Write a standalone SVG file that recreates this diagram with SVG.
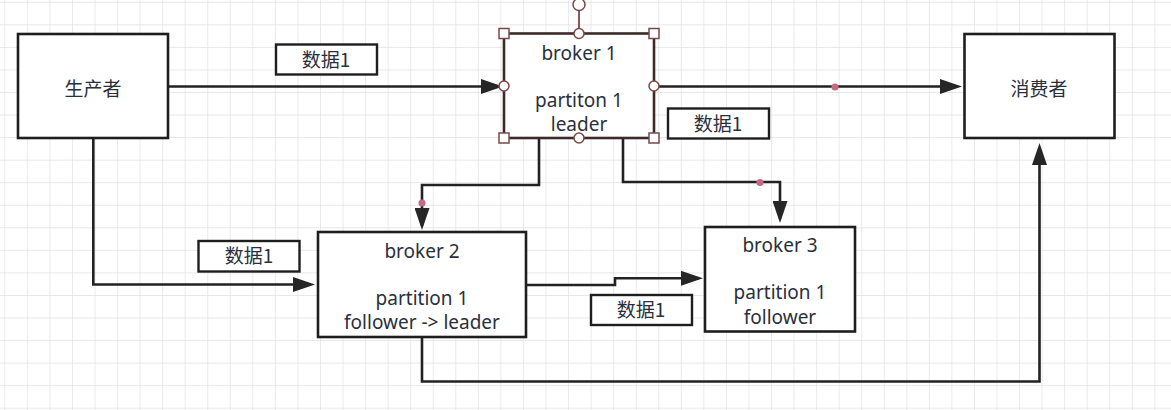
<svg xmlns="http://www.w3.org/2000/svg" width="1171" height="410" viewBox="0 0 1171 410">
  <defs>
    <pattern id="grid" x="4.3" y="1.8" width="22.55" height="22.55" patternUnits="userSpaceOnUse">
      <path d="M0,0 H22.55 M0,0 V22.55" fill="none" stroke="#e0e0e0" stroke-width="1.3"/>
    </pattern>
    <marker id="arrow" viewBox="0 0 22 15" refX="18" refY="7.5" markerWidth="22" markerHeight="15" markerUnits="userSpaceOnUse" orient="auto">
      <path d="M0,0 L22,7.5 L0,15 Z" fill="#262626"/>
    </marker>
  </defs>
  <style>
    .box { fill: #ffffff; stroke: #1e1e1e; stroke-width: 2.6; }
    .sel { fill: #ffffff; stroke: #3f2a2a; stroke-width: 2.6; }
    .lbl { fill: #ffffff; stroke: #1e1e1e; stroke-width: 2.4; }
    .t { font-family: "Noto Sans", "Liberation Sans", "Noto Sans CJK SC", sans-serif; font-size: 19px; fill: #2a2f3c; text-anchor: middle; }
    .c { font-family: "Noto Sans CJK SC", "Noto Sans", sans-serif; font-size: 19px; fill: #2a2f3c; text-anchor: middle; }
    .edge { fill: none; stroke: #222222; stroke-width: 2.6; marker-end: url(#arrow); }
    .dot { fill: #c46a82; }
    .hc { fill: #ffffff; stroke: #7a4848; stroke-width: 1.5; }
    .hl { stroke: #7a4848; stroke-width: 1.8; }
  </style>
  <rect width="1171" height="410" fill="#ffffff"/>
  <rect width="1171" height="410" fill="url(#grid)"/>

  <g id="connectors">
    <path class="edge" d="M168,86.5 H499"/>
    <path class="edge" d="M93.3,138 V284.5 H311"/>
    <path class="edge" d="M654,86.5 H958"/>
    <path class="edge" d="M539,138 V185 H422 V226"/>
    <path class="edge" d="M623,138 V182 H780 V219"/>
    <path class="edge" d="M526,285 H615 V278.3 H699"/>
    <path class="edge" d="M422,337 V381.5 H1039.5 V147"/>
    <circle class="dot" cx="835" cy="87" r="3.6"/>
    <circle class="dot" cx="422" cy="203" r="3.6"/>
    <circle class="dot" cx="760" cy="182.5" r="3.6"/>
  </g>

  <g id="producer">
    <rect class="box" x="18" y="34" width="150" height="104"/>
    <text class="c" x="93" y="96">生产者</text>
  </g>

  <g id="consumer">
    <rect class="box" x="964.5" y="34" width="150" height="104"/>
    <text class="c" x="1039" y="95.5">消费者</text>
  </g>

  <g id="broker1">
    <rect class="sel" x="504" y="33.5" width="150" height="104.5"/>
    <text class="t" x="579" y="59.5">broker 1</text>
    <text class="t" x="579" y="107">partiton 1</text>
    <text class="t" x="579" y="131">leader</text>
    <line class="hl" x1="579" y1="10" x2="579" y2="33.5"/>
    <circle class="hc" cx="579" cy="4.5" r="6"/>
    <circle class="hc" cx="579" cy="33.5" r="5"/>
    <circle class="hc" cx="579" cy="138" r="5"/>
    <circle class="hc" cx="504" cy="86" r="5"/>
    <circle class="hc" cx="654" cy="86" r="5"/>
    <rect class="hc" x="499" y="28.5" width="10" height="10"/>
    <rect class="hc" x="649" y="28.5" width="10" height="10"/>
    <rect class="hc" x="499" y="133" width="10" height="10"/>
    <rect class="hc" x="649" y="133" width="10" height="10"/>
  </g>

  <g id="broker2">
    <rect class="box" x="318" y="232" width="208" height="105"/>
    <text class="t" x="422" y="258">broker 2</text>
    <text class="t" x="422" y="304.5">partition 1</text>
    <text class="t" x="422" y="329">follower -&gt; leader</text>
  </g>

  <g id="broker3">
    <rect class="box" x="705" y="227" width="150" height="104.5"/>
    <text class="t" x="780" y="251.5">broker 3</text>
    <text class="t" x="780" y="299">partition 1</text>
    <text class="t" x="780" y="323.5">follower</text>
  </g>

  <g id="label1">
    <rect class="lbl" x="276" y="44.5" width="101" height="30"/>
    <text class="c" x="326" y="66.5">数据1</text>
  </g>
  <g id="label2">
    <rect class="lbl" x="668" y="108.5" width="101" height="30"/>
    <text class="c" x="718" y="130.5">数据1</text>
  </g>
  <g id="label3">
    <rect class="lbl" x="198.5" y="241" width="101" height="30.5"/>
    <text class="c" x="249" y="263">数据1</text>
  </g>
  <g id="label4">
    <rect class="lbl" x="591" y="295" width="101" height="30"/>
    <text class="c" x="641" y="317">数据1</text>
  </g>
</svg>
